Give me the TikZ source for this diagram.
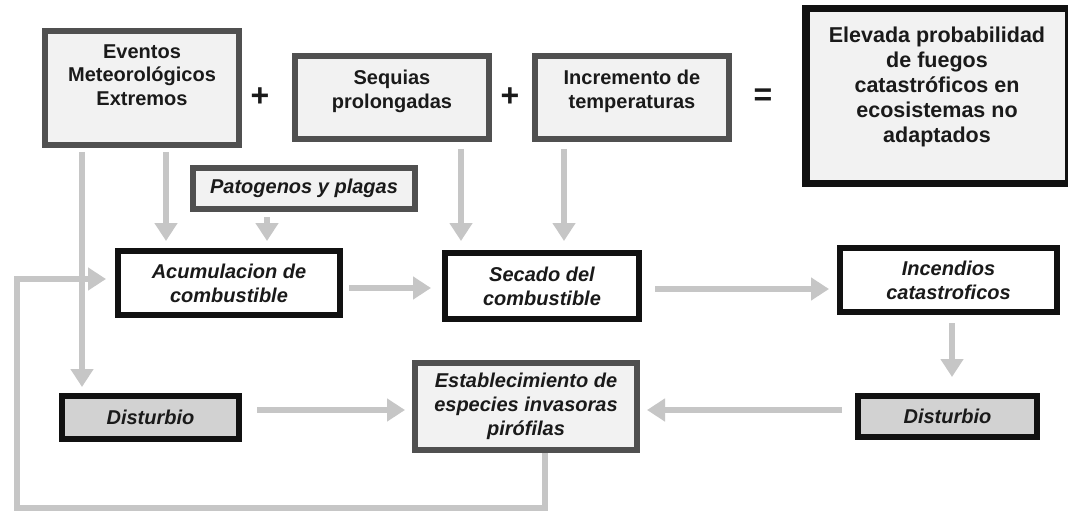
\documentclass[tikz,border=0pt]{standalone}
\usepackage{fontspec}
\setmainfont{Liberation Sans}
\usetikzlibrary{arrows.meta,calc}
\definecolor{arr}{HTML}{C6C6C6}
\definecolor{dg}{HTML}{505050}
\definecolor{bk}{HTML}{111111}
\definecolor{lf}{HTML}{F2F2F2}
\definecolor{df}{HTML}{D2D2D2}
\definecolor{tx}{HTML}{1A1A1A}
\tikzset{
  box/.style={rectangle, line width=6pt, align=center, text=tx, inner sep=0pt,
    font=\fontsize{20}{23.5}\selectfont\bfseries},
  gbox/.style={box, draw=dg, fill=lf},
  kbox/.style={box, draw=bk, fill=white, font=\fontsize{20}{24}\selectfont\bfseries\itshape},
  dbox/.style={kbox, fill=df},
  ebox/.style={box, draw=bk, fill=lf, line width=7.5pt, font=\fontsize{21.5}{25}\selectfont\bfseries},
  ibox/.style={gbox, font=\fontsize{20}{24}\selectfont\bfseries\itshape},
  op/.style={font=\fontsize{32}{32}\selectfont\bfseries, text=tx},
  flow/.style={draw=arr, line width=6.5pt, -{Triangle[width=22pt,length=18pt]}}
}
\begin{document}
\begin{tikzpicture}[x=1pt,y=-1pt]
\useasboundingbox[fill=white] (0,0) rectangle (1068,516);
% top row
\node[gbox, minimum width=194pt, minimum height=114pt] (ev) at (142,88) {Eventos\\Meteorológicos\\Extremos\\[2.5pt]};
\node[gbox, minimum width=194pt, minimum height=83pt] (seq) at (392,97.5) {Sequias\\prolongadas\\[-7.5pt]};
\node[gbox, minimum width=194pt, minimum height=83pt] (inc) at (632,97.5) {Incremento de\\temperaturas\\[-7.5pt]};
\node[ebox, minimum width=262.5pt, minimum height=174.5pt] (elev) at (937,96) {Elevada probabilidad\\de fuegos\\catastróficos en\\ecosistemas no\\adaptados\\[-3pt]};
\node[op] (p1) at (260,97) {+};
\node[op] (p2) at (510,97) {+};
\node[op] (eq) at (763,97) {=};
% second row
\node[ibox, minimum width=222pt, minimum height=41pt] (pat) at (304,188.5) {Patogenos y plagas};
\node[kbox, minimum width=222pt, minimum height=64pt] (acum) at (229,283) {Acumulacion de\\combustible};
\node[kbox, minimum width=194pt, minimum height=66pt] (sec) at (542,286) {Secado del\\combustible};
\node[kbox, minimum width=217pt, minimum height=64pt] (incd) at (948.5,280) {Incendios\\catastroficos};
% third row
\node[dbox, minimum width=177pt, minimum height=43pt] (dl) at (150.5,417.5) {Disturbio};
\node[ibox, minimum width=222pt, minimum height=87pt] (est) at (526,406.5) {Establecimiento de\\especies invasoras\\pirófilas};
\node[dbox, minimum width=179pt, minimum height=41pt] (dr) at (947.5,416.5) {Disturbio};
% connectors
\draw[flow, shorten <=4pt, shorten >=7pt] (ev.south -| 166,0) -- (acum.north -| 166,0);
\draw[flow, shorten <=5pt, shorten >=7pt] (pat.south -| 267,0) -- (acum.north -| 267,0);
\draw[flow, shorten <=7pt, shorten >=9pt] (seq.south -| 461,0) -- (sec.north -| 461,0);
\draw[flow, shorten <=7pt, shorten >=9pt] (inc.south -| 564,0) -- (sec.north -| 564,0);
\draw[flow, shorten <=4pt, shorten >=6pt] (ev.south -| 82,0) -- (dl.north -| 82,0);
\draw[flow, shorten <=6pt, shorten >=11pt] (acum.east |- 0,288) -- (sec.west |- 0,288);
\draw[flow, shorten <=13pt, shorten >=8pt] (sec.east |- 0,289) -- (incd.west |- 0,289);
\draw[flow, shorten <=8pt, shorten >=16pt] (incd.south -| 952,0) -- (dr.north -| 952,0);
\draw[flow, shorten <=15pt, shorten >=7pt] (dl.east |- 0,410) -- (est.west |- 0,410);
\draw[flow, shorten <=13pt, shorten >=7pt] (dr.west |- 0,410) -- (est.east |- 0,410);
\coordinate (c1) at (545,508);
\coordinate (c2) at (17,508);
\coordinate (c3) at (17,279);
\draw[flow, shorten >=9pt] (est.south -| c1) -- (c1) -- (c2) -- (c3) -- (acum.west |- c3);
\end{tikzpicture}
\end{document}
